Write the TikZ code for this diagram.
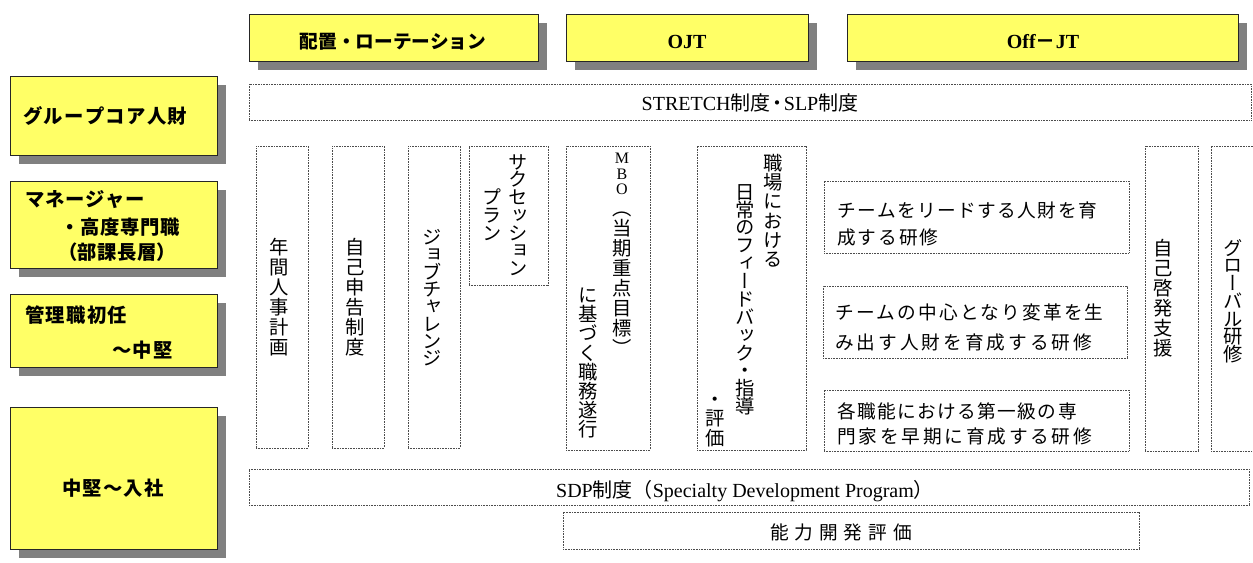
\documentclass[tikz,border=0pt]{standalone}
\usepackage{fontspec}
\setmainfont{Liberation Serif}
\newfontfamily\jp{Noto Sans CJK JP}
\newfontfamily\vjp[RawFeature=+vert]{Noto Sans CJK JP}
\usetikzlibrary{fit,shadows}
\definecolor{ylw}{HTML}{FFFF66}
\definecolor{shd}{HTML}{808080}
\def\lsp#1#2{\def\lspsep{\hspace{#1}}\lspfirst#2\relax}
\def\lspfirst#1{#1\lspx}
\def\lspx#1{\ifx#1\relax\else\lspsep#1\expandafter\lspx\fi}
\newcommand\mbol[1]{{\rmfamily\fontsize{12pt}{12pt}\selectfont #1}}
\begin{document}
\begin{tikzpicture}[x=0.75pt,y=-0.75pt,
  ybox/.style={fill=ylw, draw=black!85, line width=0.75pt, inner sep=0pt,
    drop shadow={shadow xshift=7pt, shadow yshift=-7pt, fill=shd, opacity=1}},
  dbox/.style={draw=black!70, line width=0.6pt, dash pattern=on 0.6pt off 0.6pt, inner sep=0pt},
  hdj/.style={font=\jp\bfseries\fontsize{14pt}{16pt}\selectfont, inner sep=0pt},
  hdl/.style={font=\bfseries\fontsize{15pt}{16pt}\selectfont, inner sep=0pt},
  lt/.style={font=\jp\bfseries\fontsize{14.5pt}{16pt}\selectfont, anchor=west, inner sep=0pt},
  vt/.style={font={\vjp\fontsize{14.5pt}{#1}\selectfont\lineskiplimit=-100pt},
    align=center, anchor=north, inner sep=0pt},
  vt/.default=15pt,
  rt/.style={font=\jp\fontsize{14pt}{16pt}\selectfont, anchor=west, inner sep=0pt},
  ht/.style={font=\fontsize{15pt}{16pt}\selectfont, inner sep=0pt}]
\useasboundingbox (0,0) rectangle (1253,562);
% left level boxes
\node[ybox, fit={(10,76) (217,155)}] (l1) {};
\node[lt] (l1t) at (23,116) {\lsp{1pt}{グループコア人財}};
\node[ybox, fit={(10,181) (217,268)}] (l2) {};
\node[lt] (l2a) at (25,200) {\lsp{0.5pt}{マネージャー}};
\node[lt] (l2b) at (60,227) {\lsp{0.5pt}{・高度専門職}};
\node[lt] (l2c) at (58,252) {\lsp{0.3pt}{（部課長層）}};
\node[ybox, fit={(10,294) (217,367)}] (l3) {};
\node[lt] (l3a) at (25,315) {\lsp{1pt}{管理職初任}};
\node[lt] (l3b) at (112,350) {\lsp{1pt}{～中堅}};
\node[ybox, fit={(10,407) (217,549)}] (l4) {};
\node[hdj, font=\jp\bfseries\fontsize{14.5pt}{16pt}\selectfont] (l4t) at (113,488) {\lsp{1pt}{中堅～入社}};
% header boxes
\node[ybox, fit={(249,14) (538,61)}] (h1) {};
\node[hdj] (h1t) at (393,42) {配置・ローテーション};
\node[ybox, fit={(566,14) (808,61)}] (h2) {};
\node[hdl] (h2t) at (687,42) {OJT};
\node[ybox, fit={(847,14) (1238,61)}] (h3) {};
\node[hdl] (h3t) at (1043,42) {Off{\jp\bfseries －}JT};
% stretch row
\node[dbox, fit={(249,84) (1251,120)}] (st) {};
\node[ht] (stt) at (750,103) {STRETCH{\jp 制度\hspace{-2.5pt}・\hspace{-2.5pt}}SLP{\jp 制度}};
% vertical columns
\node[dbox, fit={(256,146) (308,448)}] (c1) {};
\node[vt] (c1t) at (279,238) {年\\間\\人\\事\\計\\画};
\node[dbox, fit={(332,146) (384,448)}] (c2) {};
\node[vt] (c2t) at (355,238) {自\\己\\申\\告\\制\\度};
\node[dbox, fit={(408,146) (460,448)}] (c3) {};
\node[vt=13pt] (c3t) at (432,229) {ジ\\ョ\\ブ\\チ\\ャ\\レ\\ン\\ジ};
\node[dbox, fit={(469,146) (548,285)}] (c4) {};
\node[vt=13.3pt] (c4a) at (518,154) {サ\\ク\\セ\\ッ\\シ\\ョ\\ン};
\node[vt=13.7pt] (c4b) at (492,188) {プ\\ラ\\ン};
\node[dbox, fit={(566,146) (650,450)}] (c5) {};
\node[vt=15pt] (c5a) at (622,153) {\mbol{M}\\[-3.5pt]\mbol{B}\\[-3.5pt]\mbol{O}\\[0.5pt]（\\当\\期\\重\\点\\目\\標\\）};
\node[vt=14.3pt] (c5b) at (588,288) {に\\基\\づ\\く\\職\\務\\遂\\行};
\node[dbox, fit={(697,146) (806,450)}] (c6) {};
\node[vt=14.4pt] (c6a) at (773,154) {職\\場\\に\\お\\け\\る};
\node[vt=13.4pt] (c6b) at (745,184) {日\\常\\の\\フ\\ィ\\ー\\ド\\バ\\ッ\\ク\\・\\指\\導};
\node[vt=14.4pt] (c6c) at (715,397) {・\\評\\価};
% right text boxes
\node[dbox, fit={(824,181) (1129,253)}] (r1) {};
\node[rt] (r1a) at (837,210) {\lsp{1.05pt}{チームをリードする人財を育}};
\node[rt] (r1b) at (837,237) {\lsp{1.5pt}{成する研修}};
\node[dbox, fit={(823,286) (1127,358)}] (r2) {};
\node[rt] (r2a) at (835,312) {\lsp{1.6pt}{チームの中心となり変革を生}};
\node[rt] (r2b) at (835,342) {\lsp{2.25pt}{み出す人財を育成する研修}};
\node[dbox, fit={(824,390) (1129,451)}] (r3) {};
\node[rt] (r3a) at (837,411) {\lsp{1.05pt}{各職能における第一級の専}};
\node[rt] (r3b) at (837,436) {\lsp{2.1pt}{門家を早期に育成する研修}};
% right vertical columns
\node[dbox, fit={(1145,146) (1198,451)}] (c7) {};
\node[vt] (c7t) at (1163,239) {自\\己\\啓\\発\\支\\援};
\node[dbox, fit={(1211,146) (1262,451)}] (c8) {};
\node[vt=13.3pt] (c8t) at (1233,239) {グ\\ロ\\ー\\バ\\ル\\研\\修};
% bottom rows
\node[dbox, fit={(249,469) (1249,505)}] (sdp) {};
\node[ht] (sdpt) at (745,491) {SDP{\jp 制度（}Specialty Development Program{\jp ）}};
\node[dbox, fit={(563,512) (1139,549)}] (nk) {};
\node[rt, anchor=center] (nkt) at (841,532) {\lsp{4.4pt}{能力開発評価}};
\end{tikzpicture}
\end{document}
